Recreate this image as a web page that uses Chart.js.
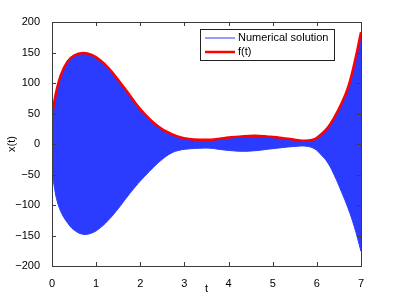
<!DOCTYPE html>
<html>
<head>
<meta charset="utf-8">
<script src="https://cdn.jsdelivr.net/npm/chart.js@4/dist/chart.umd.min.js"></script>
<style>
  html, body { margin: 0; padding: 0; background: #fff; }
  #wrap { width: 399px; height: 299px; }
</style>
</head>
<body>
<div id="wrap"><canvas id="myChart" width="399" height="299"></canvas></div>
<script>
// data
const t_vals = [0, 0.05, 0.1, 0.2, 0.35, 0.5, 0.7, 0.9, 1.1, 1.3, 1.5, 1.7, 1.9, 2.1, 2.3, 2.5, 2.7, 2.9, 3.1, 3.35, 3.6, 3.8, 4.0, 4.3, 4.6, 4.9, 5.2, 5.5, 5.75, 5.95, 6.1, 6.25, 6.4, 6.55, 6.7, 6.85, 7.0];
// f(t), also the top edge of the numerical solution band
const f_vals = [46, 68, 87, 113, 135, 145, 149, 146, 137, 123, 105, 86, 66, 49, 35, 24, 16.5, 11, 8.3, 7, 7, 8.5, 10.5, 12.5, 13.5, 12, 10, 7, 5.5, 8, 16, 27, 44, 65, 91, 132, 183];
// bottom edge of the numerical solution band
const low_vals = [-47, -69, -89, -111, -129, -141, -148, -146, -137, -123, -106, -87, -69, -53, -38, -25, -15, -10, -8, -7, -7, -9, -10.5, -12, -11, -8.5, -6, -4, -3.5, -8, -18, -31, -52, -77, -104, -136, -176];
const x_ticks = [0, 1, 2, 3, 4, 5, 6, 7];
const y_ticks = [-200, -150, -100, -50, 0, 50, 100, 150, 200];

const legend_items = [
  { label: "Numerical solution", color: "#2b3cff", width: 1 },
  { label: "f(t)", color: "#ff0000", width: 2.5 },
];

const blue = "#2b3cff";
const axisColor = "#3c3c3c";
const font = "Liberation Sans";

const pts = (ys) => t_vals.map((t, i) => ({ x: t, y: ys[i] }));

// box round the axes, ticks pointing inward, and the legend
const matlabAxes = {
  id: "matlabAxes",
  afterDraw(chart) {
    const ctx = chart.ctx;
    const a = chart.chartArea;
    const xs = chart.scales.x, ys = chart.scales.y;
    ctx.save();
    ctx.strokeStyle = axisColor;
    ctx.lineWidth = 1;
    ctx.beginPath();
    x_ticks.forEach((v) => {
      const px = Math.round(xs.getPixelForValue(v)) + 0.5;
      ctx.moveTo(px, a.bottom); ctx.lineTo(px, a.bottom - 4);
      ctx.moveTo(px, a.top); ctx.lineTo(px, a.top + 4);
    });
    y_ticks.forEach((v) => {
      const py = Math.round(ys.getPixelForValue(v)) + 0.5;
      ctx.moveTo(a.left, py); ctx.lineTo(a.left + 4, py);
      ctx.moveTo(a.right, py); ctx.lineTo(a.right - 4, py);
    });
    ctx.stroke();
    ctx.strokeRect(Math.round(a.left) + 0.5, Math.round(a.top) + 0.5,
      Math.round(a.right - a.left), Math.round(a.bottom - a.top));

    // legend
    const lx = 200.5, ly = 29.5, lw = 134, lh = 31;
    ctx.fillStyle = "#fff";
    ctx.fillRect(lx, ly, lw, lh);
    ctx.strokeStyle = "#222";
    ctx.strokeRect(lx, ly, lw, lh);
    ctx.font = "11px '" + font + "'";
    ctx.textBaseline = "middle";
    legend_items.forEach((item, i) => {
      const yy = 38 + i * 14;
      ctx.strokeStyle = item.color;
      ctx.lineWidth = item.width;
      ctx.beginPath();
      ctx.moveTo(205, yy); ctx.lineTo(235, yy);
      ctx.stroke();
      ctx.fillStyle = "#000";
      ctx.fillText(item.label, 238, yy);
    });
    ctx.restore();
  },
};

const ctx = document.getElementById("myChart").getContext("2d");
const myChart = new Chart(ctx, {
  type: "line",
  data: {
    datasets: [
      {
        label: "f(t)",
        data: pts(f_vals),
        borderColor: "#ff0000",
        borderWidth: 2.5,
        pointRadius: 0,
        fill: false,
        tension: 0.4,
        order: 0,
      },
      {
        label: "Numerical solution",
        data: pts(f_vals),
        borderColor: blue,
        borderWidth: 1,
        pointRadius: 0,
        fill: false,
        tension: 0.4,
        order: 2,
      },
      {
        label: "lower",
        data: pts(low_vals),
        borderColor: blue,
        backgroundColor: blue,
        borderWidth: 1,
        pointRadius: 0,
        fill: "-1",
        tension: 0.4,
        order: 1,
      },
    ],
  },
  options: {
    responsive: false,
    animation: false,
    layout: { padding: { top: 22, right: 38, left: 0, bottom: 0 } },
    plugins: {
      legend: { display: false },
      tooltip: { enabled: false },
    },
    scales: {
      x: {
        type: "linear",
        min: 0,
        max: 7,
        afterFit: (s) => { s.height = 33; },
        afterBuildTicks: (s) => { s.ticks = x_ticks.map((v) => ({ value: v })); },
        grid: { display: false },
        border: { display: false },
        ticks: { color: "#000", padding: 3, font: { family: font, size: 11 } },
        title: { display: true, text: "t", color: "#000", padding: { top: 0, bottom: 3 }, font: { family: font, size: 11 } },
      },
      y: {
        min: -200,
        max: 200,
        afterFit: (s) => { s.width = 52; },
        afterBuildTicks: (s) => { s.ticks = y_ticks.map((v) => ({ value: v })); },
        grid: { display: false },
        border: { display: false },
        ticks: {
          color: "#000",
          padding: 4,
          font: { family: font, size: 11 },
          callback: (v) => String(v).replace("-", "\u2212"),
        },
        title: { display: true, text: "x(t)", color: "#000", padding: { top: 5, bottom: 0 }, font: { family: font, size: 11 } },
      },
    },
  },
  plugins: [matlabAxes],
});
</script>
</body>
</html>
